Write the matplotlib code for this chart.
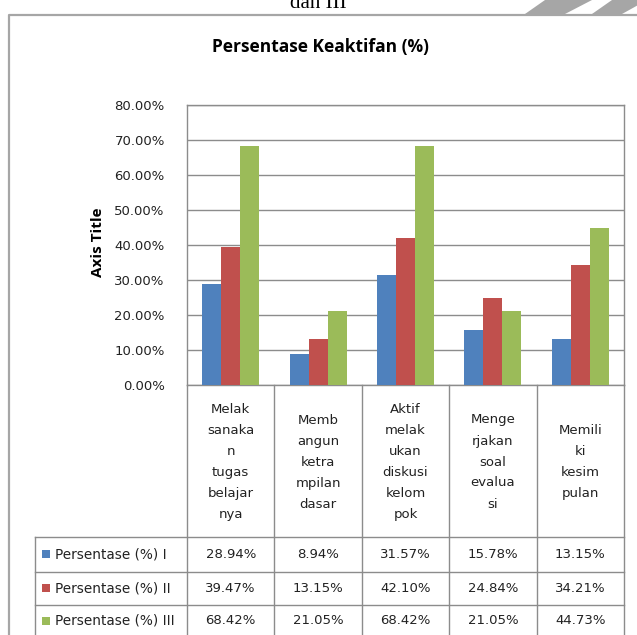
import numpy as np
import matplotlib.pyplot as plt
from matplotlib.patches import Polygon, Rectangle

categories = [
    "Melak\nsanaka\nn\ntugas\nbelajar\nnya",
    "Memb\nangun\nketra\nmpilan\ndasar",
    "Aktif\nmelak\nukan\ndiskusi\nkelom\npok",
    "Menge\nrjakan\nsoal\nevalua\nsi",
    "Memili\nki\nkesim\npulan",
]
series_names = ["Persentase (%) I", "Persentase (%) II", "Persentase (%) III"]
pct_1 = [28.94, 8.94, 31.57, 15.78, 13.15]
pct_2 = [39.47, 13.15, 42.10, 24.84, 34.21]
pct_3 = [68.42, 21.05, 68.42, 21.05, 44.73]
y_ticks = [0, 10, 20, 30, 40, 50, 60, 70, 80]

colors = ["#4F81BD", "#C0504D", "#9BBB59"]
grid_c = "#8C8C8C"
txt_c = "#222222"
W, H = 637, 635
# plot area in pixels
PL, PR, PT, PB = 187, 624, 105, 385

fig = plt.figure(figsize=(W / 100, H / 100), dpi=100)

# overlay in pixel coordinates for the frame and decorations
ov = fig.add_axes([0, 0, 1, 1])
ov.set_xlim(0, W)
ov.set_ylim(H, 0)
ov.axis("off")

# chart frame (runs off the right and bottom of the picture)
ov.plot([9, 9, W + 5], [H + 5, 15, 15], color="#A6A6A6", lw=1.6, solid_capstyle="butt")
# gray stripes from the page behind
ov.add_patch(Polygon([[525, 14], [565, 14], [592, 0], [545, 0]], closed=True, color="#A6A6A6", lw=0))
ov.add_patch(Polygon([[592, 14], [622, 14], [640, 4], [640, 0], [612, 0]], closed=True, color="#A6A6A6", lw=0))
# caption of the page above the chart, cut by the top edge like in the screenshot
ov.text(318, 8, "dan III", family="Liberation Serif", fontsize=15, ha="center", va="baseline")

ov.text(321, 47, "Persentase Keaktifan (%)", family="Open Sans", fontweight="bold",
        fontsize=12.5, ha="center", va="center")
ov.text(98, 242, "Axis Title", family="Open Sans", fontweight="bold", fontsize=11,
        rotation=90, ha="center", va="center")

# bars
ax = fig.add_axes([PL / W, (H - PB) / H, (PR - PL) / W, (PB - PT) / H])
x = np.arange(len(categories))
bw = 0.218
for k, vals in enumerate([pct_1, pct_2, pct_3]):
    ax.bar(x + (k - 1) * bw, vals, width=bw, color=colors[k], zorder=3)

ax.set_xlim(-0.5, len(categories) - 0.5)
ax.set_ylim(0, 80)
ax.set_yticks(y_ticks)
ax.set_yticklabels([f"{v:.2f}%" for v in y_ticks], fontsize=9.5, color=txt_c)
ax.set_xticks([])
ax.tick_params(axis="y", length=0, pad=16)
ax.grid(axis="y", color=grid_c, lw=1, zorder=0)
for s in ax.spines.values():
    s.set_color(grid_c)
    s.set_linewidth(1)

# data table under the plot, columns follow the category scale
tr = ax.get_xaxis_transform()
def yf(p):
    return (PB - p) / (PB - PT)

row_lines = [537, 572, 605, 640]
left_x = -0.5 - (PL - 35) / ((PR - PL) / len(categories))
for b in np.arange(len(categories) + 1) - 0.5:
    ax.plot([b, b], [yf(PB), yf(H + 5)], transform=tr, color=grid_c, lw=1, clip_on=False)
ax.plot([left_x, left_x], [yf(row_lines[0]), yf(H + 5)], transform=tr, color=grid_c, lw=1, clip_on=False)
for r in row_lines:
    ax.plot([left_x, len(categories) - 0.5], [yf(r), yf(r)], transform=tr, color=grid_c, lw=1, clip_on=False)

for i, c in enumerate(categories):
    ax.text(i, yf((PB + row_lines[0]) / 2 + 1), c, transform=tr, ha="center", va="center",
            fontsize=9.5, linespacing=1.8, color=txt_c, clip_on=False)

for k, vals in enumerate([pct_1, pct_2, pct_3]):
    yc = (row_lines[k] + row_lines[k + 1]) / 2
    if k == 2:
        yc = 621
    ov.add_patch(Rectangle((42, yc - 4.5), 8, 8, color=colors[k], lw=0))
    ov.text(55, yc, series_names[k], fontsize=9.8, ha="left", va="center", color=txt_c)
    for i, v in enumerate(vals):
        ax.text(i, yf(yc), f"{v:.2f}%", transform=tr, ha="center", va="center",
                fontsize=9.5, color=txt_c, clip_on=False)

fig.savefig("out.png", dpi=100)
